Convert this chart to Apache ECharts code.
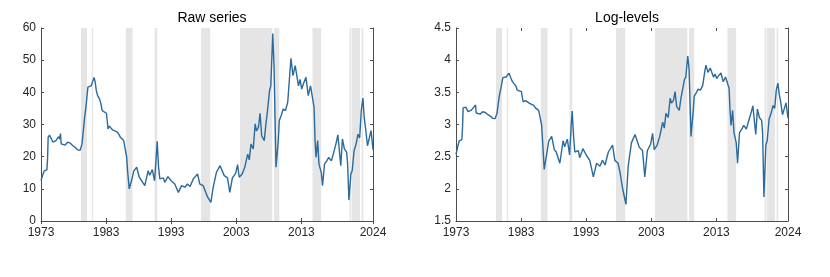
<!DOCTYPE html>
<html>
<head>
<meta charset="utf-8">
<script src="https://cdn.jsdelivr.net/npm/echarts@6/dist/echarts.min.js"></script>
<style>
html,body{margin:0;padding:0;background:#fff;}
#chart{width:830px;height:277px;}
</style>
</head>
<body>
<div id="chart"></div>
<script>
// Decimal-year dates and raw series values
const dates = [1973.0,1973.3,1973.5,1973.9,1974.0,1974.1,1974.3,1974.5,1974.85,1975.3,1975.5,1975.7,1975.85,1976.0,1976.1,1976.7,1977.1,1977.5,1977.9,1978.3,1978.65,1979.0,1979.3,1979.5,1979.7,1979.9,1980.2,1980.5,1980.7,1981.0,1981.15,1981.3,1981.5,1981.7,1982.0,1982.2,1982.4,1982.7,1983.05,1983.3,1983.5,1983.7,1984.0,1984.3,1984.6,1984.95,1985.2,1985.4,1985.7,1986.0,1986.15,1986.3,1986.55,1986.9,1987.26,1987.7,1988.1,1988.4,1988.95,1989.45,1989.7,1989.9,1990.1,1990.45,1990.7,1990.85,1991.05,1991.25,1991.8,1992.0,1992.5,1993.0,1993.55,1994.1,1994.6,1995.1,1995.5,1995.9,1996.4,1997.05,1997.4,1997.9,1998.2,1998.6,1999.1,1999.45,1999.95,2000.5,2000.8,2001.15,2001.65,2002.0,2002.4,2002.9,2003.2,2003.45,2003.9,2004.3,2004.75,2005.0,2005.25,2005.6,2005.9,2006.1,2006.4,2006.65,2006.9,2007.05,2007.3,2007.55,2007.75,2008.1,2008.3,2008.6,2008.8,2009.1,2009.45,2009.6,2009.9,2010.2,2010.55,2010.9,2011.25,2011.4,2011.7,2012.05,2012.3,2012.55,2012.8,2013.05,2013.3,2013.7,2014.05,2014.4,2014.7,2014.95,2015.1,2015.25,2015.5,2015.7,2016.05,2016.25,2016.55,2016.9,2017.2,2017.6,2017.9,2018.3,2018.6,2018.85,2019.05,2019.3,2019.6,2019.95,2020.1,2020.3,2020.6,2020.8,2021.1,2021.4,2021.7,2021.95,2022.2,2022.45,2022.65,2022.9,2023.15,2023.4,2023.7,2024.0];
const rawValues = [12.6,14.5,15.6,15.9,19,26.0,26.7,26.3,24.5,25,24.6,26.2,25.5,27.2,24,23.6,24.5,24.2,23.4,22.8,22.1,22.0,23.9,28,32.2,35.3,41.6,42.2,42.0,41.6,44.6,43.5,40.5,39,37.9,36.5,34.3,33.8,33.5,28.6,29.5,29.1,28.3,27.9,27.8,27,26,25.5,25,24.5,20,15.6,10.0,12.5,15.6,16.7,13.6,13.1,11,15.6,14.2,15.1,16,12.5,20,24.8,17,13.1,13.4,12,13.8,12.5,11.5,8.9,11,10.5,11.5,10.7,13.1,14.6,11.5,11,9.5,7.4,5.8,10.5,15.1,17.2,17.5,14.1,13.4,8.9,13.4,14.8,17.5,13.6,14.6,16.7,20.8,19,23.9,22.4,30.2,28,29.1,33.5,26.5,26,25,30.2,33.5,40.5,42,58.3,47.8,16.7,25,31.2,32.8,34.8,34.3,36.9,46.7,50.6,45.2,48.3,48.6,42,44,41,42.6,44.7,39,42,41.6,35.3,25,19.8,25,17.7,15.1,11,17.7,18.7,19.8,18.7,20.8,23.9,26.8,26.5,17.2,25.5,22.4,21.4,17.7,6.5,14.6,15.6,21.9,23.9,27,25.8,34.3,38.2,32.2,28.1,23.4,24,28.1,22.2];
// Shaded periods [start, end] in decimal years
const shadeStarts = [1979.15,1980.8,1986.03,1990.45,1997.57,2003.57,2008.8,2014.7,2020.4,2020.75,2022.25];
const shadeEnds   = [1980.08,1981.0,1987.06,1990.85,1999.0,2008.54,2009.6,2016.03,2020.65,2022.0,2022.5];
const xTicks = [1973,1983,1993,2003,2013,2024];
const titles = ['Raw series','Log-levels'];

const rawData = dates.map((d,i)=>[d, rawValues[i]]);
const logData = dates.map((d,i)=>[d, Math.log(rawValues[i])]);
const shadeAreas = shadeStarts.map((s,i)=>[{xAxis:s},{xAxis:shadeEnds[i]}]);

const font = 'Liberation Sans, Arial, Helvetica, sans-serif';
const axisCol = '#4d4d4d';
const textCol = '#262626';

function xAxes(gi){
  return [{
    type:'value', gridIndex:gi, min:1973, max:2024, position:'bottom',
    axisLine:{show:true,onZero:false,lineStyle:{color:axisCol,width:1}},
    axisTick:{show:true,inside:true,length:3,customValues:xTicks,lineStyle:{color:axisCol}},
    axisLabel:{show:true,customValues:xTicks,color:textCol,fontSize:12,fontFamily:font,margin:6,
      formatter:v=>String(Math.round(v))},
    splitLine:{show:false}
  },{
    type:'value', gridIndex:gi, min:1973, max:2024, position:'top',
    axisLine:{show:false},
    axisTick:{show:true,inside:true,length:3,customValues:xTicks,lineStyle:{color:axisCol}},
    axisLabel:{show:false},
    splitLine:{show:false}
  }];
}
function yAxes(gi,min,max,interval){
  return [{
    type:'value', gridIndex:gi, min:min, max:max, interval:interval, position:'left',
    axisLine:{show:true,onZero:false,lineStyle:{color:axisCol,width:1}},
    axisTick:{show:true,inside:true,length:3,lineStyle:{color:axisCol}},
    axisLabel:{show:true,color:textCol,fontSize:12,fontFamily:font,margin:5},
    splitLine:{show:false}
  },{
    type:'value', gridIndex:gi, min:min, max:max, interval:interval, position:'right',
    axisLine:{show:true,onZero:false,lineStyle:{color:axisCol,width:1}},
    axisTick:{show:true,inside:true,length:3,lineStyle:{color:axisCol}},
    axisLabel:{show:false},
    splitLine:{show:false}
  }];
}

const chart = echarts.init(document.getElementById('chart'), null, {renderer:'canvas'});
const lineCol = '#2b6a9c';
chart.setOption({
  animation:false,
  backgroundColor:'#fff',
  title:[
    {text:titles[0],left:207,top:6,textAlign:'center',textStyle:{fontSize:14,fontWeight:'normal',color:'#000',fontFamily:font}},
    {text:titles[1],left:622,top:6,textAlign:'center',textStyle:{fontSize:14,fontWeight:'normal',color:'#000',fontFamily:font}}
  ],
  grid:[
    {left:41,right:457,top:28,bottom:56},
    {left:456,right:42,top:28,bottom:56}
  ],
  xAxis:[...xAxes(0),...xAxes(1)],
  yAxis:[...yAxes(0,0,60,10),...yAxes(1,1.5,4.5,0.5)],
  series:[
    {type:'line',xAxisIndex:0,yAxisIndex:0,data:rawData,showSymbol:false,
     lineStyle:{color:lineCol,width:1.4},
     markArea:{silent:true,itemStyle:{color:'#e5e5e5'},data:shadeAreas}},
    {type:'line',xAxisIndex:2,yAxisIndex:2,data:logData,showSymbol:false,
     lineStyle:{color:lineCol,width:1.4},
     markArea:{silent:true,itemStyle:{color:'#e5e5e5'},data:shadeAreas}}
  ]
});
</script>
</body>
</html>
